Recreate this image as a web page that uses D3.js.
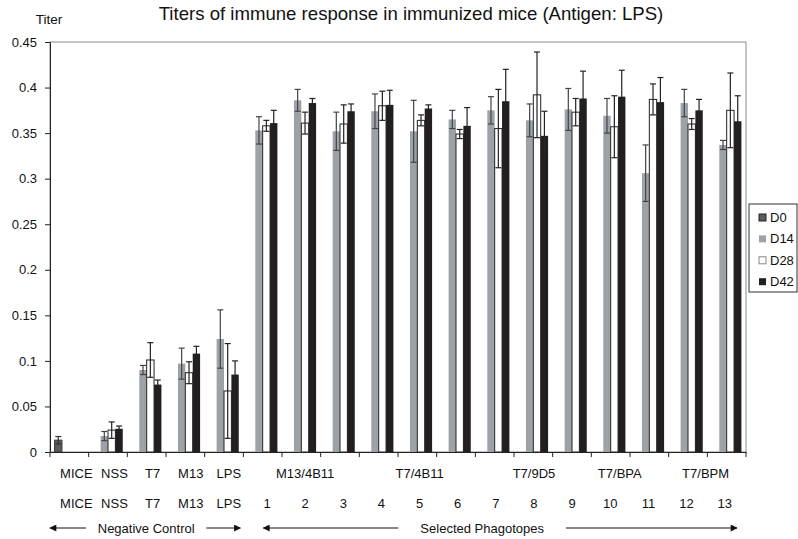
<!DOCTYPE html>
<html>
<head>
<meta charset="utf-8">
<script src="https://cdn.jsdelivr.net/npm/d3@7"></script>
<style>
  body { margin: 0; background: #fff; }
  svg text { font-family: "Liberation Sans", Arial, sans-serif; fill: #111; }
</style>
</head>
<body>
<div id="chart"></div>
<script>
// groups on the x axis
const groups = ["MICE", "NSS", "T7", "M13", "LPS", "1", "2", "3", "4", "5", "6", "7", "8", "9", "10", "11", "12", "13"];
const seriesNames = ["D0", "D14", "D28", "D42"];

// titers (null = not measured)
const d0 = [0.013, null, null, null, null, null, null, null, null, null, null, null, null, null, null, null, null, null];
const d0Err = [0.004, null, null, null, null, null, null, null, null, null, null, null, null, null, null, null, null, null];
const d14 = [null, 0.0175, 0.090, 0.097, 0.124, 0.353, 0.386, 0.352, 0.374, 0.352, 0.365, 0.375, 0.364, 0.376, 0.369, 0.306, 0.383, 0.337];
const d14Err = [null, 0.005, 0.005, 0.017, 0.032, 0.015, 0.012, 0.021, 0.019, 0.034, 0.010, 0.015, 0.018, 0.023, 0.019, 0.031, 0.015, 0.005];
const d28 = [null, 0.024, 0.101, 0.087, 0.067, 0.358, 0.361, 0.360, 0.380, 0.364, 0.349, 0.355, 0.392, 0.373, 0.357, 0.387, 0.360, 0.375];
const d28Err = [null, 0.009, 0.019, 0.012, 0.052, 0.006, 0.012, 0.021, 0.016, 0.006, 0.005, 0.043, 0.047, 0.015, 0.034, 0.017, 0.006, 0.041];
const d42 = [null, 0.0255, 0.074, 0.108, 0.085, 0.361, 0.383, 0.374, 0.381, 0.377, 0.358, 0.385, 0.347, 0.388, 0.390, 0.384, 0.375, 0.363];
const d42Err = [null, 0.003, 0.005, 0.008, 0.015, 0.014, 0.005, 0.008, 0.016, 0.004, 0.020, 0.035, 0.027, 0.030, 0.029, 0.027, 0.012, 0.028];

// upper row of category labels and where they sit (group index)
const familyLabels = ["MICE", "NSS", "T7", "M13", "LPS", "M13/4B11", "T7/4B11", "T7/9D5", "T7/BPA", "T7/BPM"];
const familyPos = [0, 1, 2, 3, 4, 6, 9, 12, 14.25, 16.5];
const yTicks = [0, 0.05, 0.1, 0.15, 0.2, 0.25, 0.3, 0.35, 0.4, 0.45];

const width = 798;
const height = 539;
const margin = {left: 50, right: 52, top: 42, bottom: 87};

const svg = d3.select("#chart").append("svg")
    .attr("width", width)
    .attr("height", height);

const x = d3.scaleBand()
    .domain(groups)
    .range([margin.left, width - margin.right]);

const inner = d3.scaleBand()
    .domain(seriesNames)
    .range([0, x.bandwidth()])
    .paddingOuter(0.62);

const y = d3.scaleLinear()
    .domain([0, 0.45])
    .range([height - margin.bottom, margin.top]);

const colors = {D0: "#5b5c5e", D14: "#9da2a8", D28: "#ffffff", D42: "#231f20"};
const strokes = {D0: "#3a3a3a", D14: "none", D28: "#222", D42: "none"};
const errColors = {D0: "#333", D14: "#444", D28: "#222", D42: "#222"};

const series = [
    {name: "D0", vals: d0, errs: d0Err},
    {name: "D14", vals: d14, errs: d14Err},
    {name: "D28", vals: d28, errs: d28Err},
    {name: "D42", vals: d42, errs: d42Err}
];

// flatten to one record per bar
let bars = [];
series.forEach(s => {
    s.vals.forEach((v, i) => {
        if (v !== null) bars.push({g: groups[i], s: s.name, v: v, e: s.errs[i]});
    });
});

// plot area frame
svg.append("rect")
    .attr("x", x.range()[0])
    .attr("y", y(0.45))
    .attr("width", x.range()[1] - x.range()[0])
    .attr("height", y(0) - y(0.45))
    .attr("fill", "none")
    .attr("stroke", "#8a8a8a")
    .attr("stroke-width", 1);

// bars
svg.append("g").selectAll("rect")
    .data(bars)
    .enter()
    .append("rect")
    .attr("x", d => x(d.g) + inner(d.s))
    .attr("y", d => y(d.v))
    .attr("width", inner.bandwidth())
    .attr("height", d => y(0) - y(d.v))
    .attr("fill", d => colors[d.s])
    .attr("stroke", d => strokes[d.s])
    .attr("stroke-width", 1);

// error bars
const cap = 3;
const err = svg.append("g").selectAll("g")
    .data(bars)
    .enter()
    .append("g")
    .attr("stroke", d => errColors[d.s])
    .attr("stroke-width", 1.2);
const cx = d => x(d.g) + inner(d.s) + inner.bandwidth() / 2;
err.append("line")
    .attr("x1", cx).attr("x2", cx)
    .attr("y1", d => y(d.v + d.e))
    .attr("y2", d => y(Math.max(0, d.v - d.e)));
err.append("line")
    .attr("x1", d => cx(d) - cap).attr("x2", d => cx(d) + cap)
    .attr("y1", d => y(d.v + d.e)).attr("y2", d => y(d.v + d.e));
err.append("line")
    .attr("x1", d => cx(d) - cap).attr("x2", d => cx(d) + cap)
    .attr("y1", d => y(Math.max(0, d.v - d.e))).attr("y2", d => y(Math.max(0, d.v - d.e)));

// axes
const yAxis = d3.axisLeft(y)
    .tickValues(yTicks)
    .tickSize(5)
    .tickPadding(8)
    .tickFormat(d => d === 0 ? "0" : String(+d.toFixed(2)));
const gy = svg.append("g")
    .attr("transform", `translate(${margin.left},0)`)
    .call(yAxis);
gy.selectAll("text").style("font-size", "13px");
gy.select(".domain").attr("stroke", "#222");
gy.selectAll(".tick line").attr("stroke", "#222");

const xAxis = d3.axisBottom(x)
    .tickValues([])
    .tickSizeOuter(0);
const gx = svg.append("g")
    .attr("transform", `translate(0,${y(0)})`)
    .call(xAxis);
gx.select(".domain").attr("stroke", "#222");
// tick marks on group boundaries
gx.selectAll("line.bound")
    .data(groups.concat(["end"]))
    .enter()
    .append("line")
    .attr("class", "bound")
    .attr("x1", (d, i) => x.range()[0] + i * x.step())
    .attr("x2", (d, i) => x.range()[0] + i * x.step())
    .attr("y1", 0).attr("y2", 5)
    .attr("stroke", "#222");

// category labels (slightly spread relative to the bars)
const labelX = d3.scaleLinear()
    .domain([0, groups.length - 1])
    .range([x(groups[0]) + x.bandwidth() / 2 + 7, x(groups[groups.length - 1]) + x.bandwidth() / 2 - 2]);

svg.append("g").selectAll("text")
    .data(familyLabels)
    .enter()
    .append("text")
    .attr("x", (d, i) => labelX(familyPos[i]))
    .attr("y", 478)
    .attr("text-anchor", "middle")
    .style("font-size", "13px")
    .text(d => d);

svg.append("g").selectAll("text")
    .data(groups)
    .enter()
    .append("text")
    .attr("x", (d, i) => labelX(i))
    .attr("y", 508)
    .attr("text-anchor", "middle")
    .style("font-size", "13px")
    .text(d => d);

// group brackets with arrows
svg.append("defs").append("marker")
    .attr("id", "arrow")
    .attr("viewBox", "0 0 10 10")
    .attr("refX", 9).attr("refY", 5)
    .attr("markerWidth", 9).attr("markerHeight", 7)
    .attr("markerUnits", "userSpaceOnUse")
    .attr("orient", "auto")
    .append("path")
    .attr("d", "M0,0L10,5L0,10Z")
    .attr("fill", "#111");

const brackets = [
    {text: "Negative Control", from: 0, to: 4, lx: [0, 36], rx: [-37, -3]},
    {text: "Selected Phagotopes", from: 5, to: 17, lx: [20, 155], rx: [-180, -9]}
];
const ay = 528;
brackets.forEach(b => {
    let x0 = x(groups[b.from]);
    let x1 = x(groups[b.to]) + x.step();
    svg.append("line")
        .attr("x1", x0 + b.lx[1]).attr("x2", x0 + b.lx[0])
        .attr("y1", ay).attr("y2", ay)
        .attr("stroke", "#111").attr("marker-end", "url(#arrow)");
    svg.append("line")
        .attr("x1", x1 + b.rx[0]).attr("x2", x1 + b.rx[1])
        .attr("y1", ay).attr("y2", ay)
        .attr("stroke", "#111").attr("marker-end", "url(#arrow)");
    svg.append("text")
        .attr("x", (x0 + b.lx[1] + x1 + b.rx[0]) / 2)
        .attr("y", ay + 4.5)
        .attr("text-anchor", "middle")
        .style("font-size", "13px")
        .text(b.text);
});

// titles
svg.append("text")
    .attr("x", 411)
    .attr("y", 20)
    .attr("text-anchor", "middle")
    .style("font-size", "18.6px")
    .text("Titers of immune response in immunized mice (Antigen: LPS)");
svg.append("text")
    .attr("x", 49)
    .attr("y", 24)
    .attr("text-anchor", "middle")
    .style("font-size", "13.5px")
    .text("Titer");

// legend
const legend = svg.append("g").attr("transform", "translate(749,204)");
legend.append("rect")
    .attr("width", 48).attr("height", 88)
    .attr("fill", "#fff").attr("stroke", "#333");
const item = legend.selectAll("g")
    .data(seriesNames)
    .enter()
    .append("g")
    .attr("transform", (d, i) => `translate(10,${10 + i * 21.4})`);
item.append("rect")
    .attr("width", 7).attr("height", 7)
    .attr("fill", d => colors[d])
    .attr("stroke", d => d === "D28" ? "#888" : (d === "D0" ? "#222" : "none"));
item.append("text")
    .attr("x", 11).attr("y", 8)
    .style("font-size", "13px")
    .text(d => d);
</script>
</body>
</html>
